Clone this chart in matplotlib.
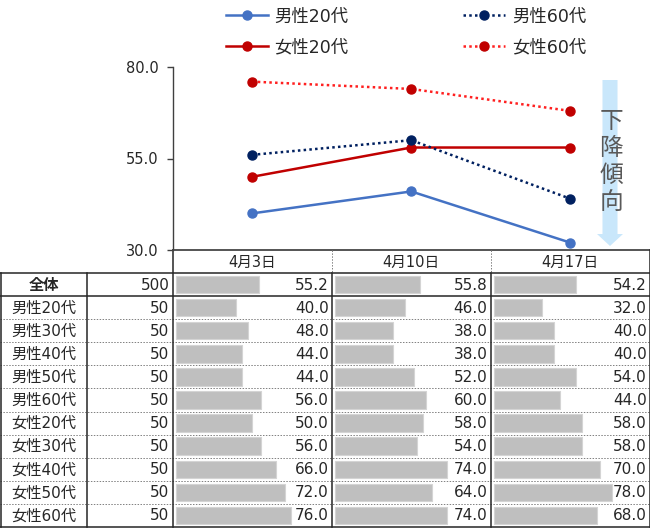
import matplotlib
matplotlib.use("Agg")
import matplotlib.pyplot as plt
from matplotlib.patches import FancyArrow

plt.rcParams['font.family'] = ['DejaVu Sans', 'Noto Sans CJK JP']

# ---- data ----
dates = ['4月3日', '4月10日', '4月17日']
groups = ['全体', '男性20代', '男性30代', '男性40代', '男性50代', '男性60代',
          '女性20代', '女性30代', '女性40代', '女性50代', '女性60代']
counts = [500, 50, 50, 50, 50, 50, 50, 50, 50, 50, 50]
val_0403 = [55.2, 40.0, 48.0, 44.0, 44.0, 56.0, 50.0, 56.0, 66.0, 72.0, 76.0]
val_0410 = [55.8, 46.0, 38.0, 38.0, 52.0, 60.0, 58.0, 54.0, 74.0, 64.0, 74.0]
val_0417 = [54.2, 32.0, 40.0, 40.0, 54.0, 44.0, 58.0, 58.0, 70.0, 78.0, 68.0]
table_vals = [val_0403, val_0410, val_0417]

line_series = ['男性20代', '女性20代', '男性60代', '女性60代']
y_ticks = [30.0, 55.0, 80.0]
arrow_text = '下降傾向'

# ---- figure ----
W, H = 650, 528
fig = plt.figure(figsize=(W / 100, H / 100), dpi=100)
ax0 = fig.add_axes([0, 0, 1, 1])
ax0.set_xlim(0, W)
ax0.set_ylim(H, 0)
ax0.axis('off')

txt_col = '#262626'
dark = '#262626'

# table geometry (pixels)
col_x = [0.5, 87, 172.5, 332, 490.5, 649.5]
head_top, body_top, body_bot = 250, 273, 527
row_h = (body_bot - body_top) / len(groups)
row_y = [body_top + i * row_h for i in range(len(groups) + 1)]

# bars
scale = 1.52
for j, vals in enumerate(table_vals):
    left = col_x[2 + j] + 3
    ax0.barh([row_y[i] + row_h / 2 for i in range(len(groups))],
             [v * scale for v in vals], left=left, height=17.5,
             color='#BFBFBF', edgecolor='#D4D4D4', linewidth=0.8, zorder=1)
    for i, v in enumerate(vals):
        ax0.text(col_x[3 + j] - 3, row_y[i] + row_h / 2 + 0.5, f'{v:.1f}',
                 ha='right', va='center', fontsize=11, color=txt_col, zorder=3)
    ax0.text((col_x[2 + j] + col_x[3 + j]) / 2, (head_top + body_top) / 2 + 0.5,
             dates[j], ha='center', va='center', fontsize=10.5, color=txt_col)

for i, g in enumerate(groups):
    ax0.text((col_x[0] + col_x[1]) / 2, row_y[i] + row_h / 2 + 0.5, g,
             ha='center', va='center', fontsize=11, color=txt_col,
             fontweight='bold' if i == 0 else 'normal')
    ax0.text(col_x[2] - 3, row_y[i] + row_h / 2 + 0.5, str(counts[i]),
             ha='right', va='center', fontsize=11, color=txt_col)

# grid lines
lw = 1.1
for i in range(2, len(groups)):
    ax0.plot([0, W], [row_y[i], row_y[i]], color='#808080', lw=0.7,
             ls=(0, (1.5, 1.5)), zorder=2)
ax0.plot([172.5, W], [head_top, head_top], color=dark, lw=lw, zorder=4)
for y in (row_y[0], row_y[1], row_y[-1]):
    ax0.plot([0, W], [y, y], color=dark, lw=lw, zorder=4)
for x in (col_x[0], col_x[1]):
    ax0.plot([x, x], [body_top, body_bot], color=dark, lw=lw, zorder=4)
for x in (col_x[2], col_x[5]):
    ax0.plot([x, x], [head_top, body_bot], color=dark, lw=lw, zorder=4)
for x in (col_x[3], col_x[4]):
    ax0.plot([x, x], [head_top, body_top], color='#808080', lw=0.7,
             ls=(0, (1.5, 1.5)), zorder=4)
    ax0.plot([x, x], [body_top, body_bot], color=dark, lw=lw, zorder=4)

# arrow
ax0.add_patch(FancyArrow(610, 80, 0, 166, width=15, head_width=26,
                         head_length=12, length_includes_head=True,
                         color='#C9E7FB', lw=0, zorder=1))
ax0.text(611, 162, '\n'.join(arrow_text), ha='center', va='center',
         fontsize=17, color='#595959', linespacing=1.22,
         family=['Noto Sans CJK JP'], zorder=2)

# ---- line chart ----
ax = fig.add_axes([172.5 / W, 1 - 250 / H, (W - 172.5) / W, (250 - 67) / H])
ax.set_facecolor('none')
xs = [0.5, 1.5, 2.5]
styles = {
    '男性20代': dict(color='#4472C4', ls='-', mfc='#4472C4'),
    '女性20代': dict(color='#C00000', ls='-', mfc='#C00000'),
    '男性60代': dict(color='#002060', ls=(0, (1, 1.3)), mfc='#002060'),
    '女性60代': dict(color='#FF2020', ls=(0, (1, 1.3)), mfc='#C00000'),
}
handles = []
for name in line_series:
    idx = groups.index(name)
    ys = [vals[idx] for vals in table_vals]
    st = styles[name]
    h, = ax.plot(xs, ys, color=st['color'], ls=st['ls'], lw=1.8,
                 marker='o', ms=6.5, mfc=st['mfc'], mec=st['mfc'], label=name)
    handles.append(h)

ax.set_xlim(0, 3)
ax.set_ylim(30, 80)
ax.set_yticks(y_ticks)
ax.set_yticklabels([f'{v:.1f}' for v in y_ticks], fontsize=10.5, color=txt_col)
ax.set_xticks([])
for s in ('top', 'right', 'bottom'):
    ax.spines[s].set_visible(False)
ax.spines['left'].set_color('#404040')
ax.spines['left'].set_linewidth(1.0)
ax.tick_params(axis='y', direction='out', length=4, width=1.0,
               color='#404040', pad=6)

fig.legend(handles=handles, loc='center', bbox_to_anchor=(406 / W, 1 - 32 / H),
           ncol=2, frameon=False, fontsize=12.5, handlelength=2.4,
           columnspacing=6.6, labelspacing=0.75, handletextpad=0.4,
           labelcolor=txt_col)

fig.savefig('out.png', dpi=100)
